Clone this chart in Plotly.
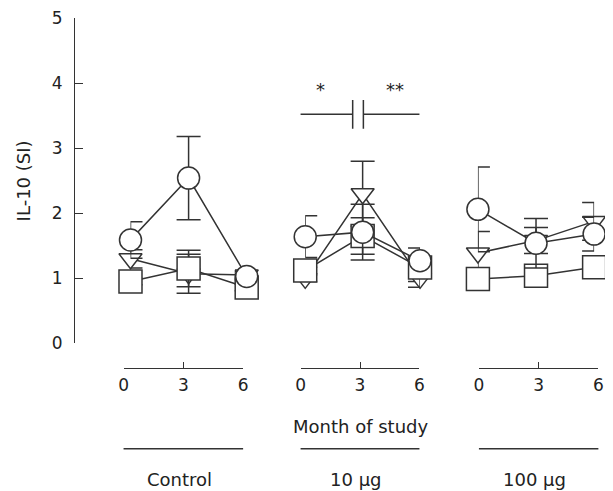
import plotly.graph_objects as go

months = [0, 3, 6]
group_names = ["Control", "10 μg", "100 μg"]
y_ticks = [0, 1, 2, 3, 4, 5]

# circle series
circle_control = [1.59, 2.54, 1.03]
circle_control_err = [0.28, 0.64, 0.05]
circle_10 = [1.64, 1.71, 1.27]
circle_10_err = [0.32, 0.43, 0.05]
circle_100 = [2.06, 1.54, 1.68]
circle_100_err = [0.65, 0.38, 0.26]

# square series
square_control = [0.95, 1.15, 0.86]
square_control_err = [0.05, 0.28, 0.05]
square_10 = [1.12, 1.65, 1.165]
square_10_err = [0.05, 0.28, 0.30]
square_100 = [0.99, 1.04, 1.17]
square_100_err = [0.05, 0.13, 0.05]

# triangle series
tri_control = [1.30, 1.07, 1.05]
tri_control_err = [0.14, 0.30, 0.05]
tri_10 = [1.00, 2.30, 1.00]
tri_10_err = [0.05, 0.50, 0.05]
tri_100 = [1.39, 1.58, 1.875]
tri_100_err = [0.33, 0.20, 0.29]

# significance brackets (10 μg panel, in months)
bracket_x0 = [-0.6, 3.17]
bracket_x1 = [2.63, 6.4]
bracket_y = 3.52
bracket_half = 0.22
bracket_text = ["*", "**"]

INK = "#333333"
FONT = "DejaVu Sans"

data_axes = ["x", "x2", "x3"]
tick_axes = ["x4", "x5", "x6"]
series = [
    (tri_control, tri_control_err, tri_10, tri_10_err, tri_100, tri_100_err, "triangle-down", 20),
    (square_control, square_control_err, square_10, square_10_err, square_100, square_100_err, "square", 23),
    (circle_control, circle_control_err, circle_10, circle_10_err, circle_100, circle_100_err, "circle", 22),
]

fig = go.Figure()
for s in series:
    vals = [(s[0], s[1]), (s[2], s[3]), (s[4], s[5])]
    sym, size = s[6], s[7]
    for (v, e), ax in zip(vals, data_axes):
        fig.add_trace(go.Scatter(
            x=months, y=v, xaxis=ax, yaxis="y", mode="lines+markers",
            line=dict(color=INK, width=1.5),
            marker=dict(symbol=sym, size=size, color="white",
                        line=dict(color=INK, width=1.5)),
            error_y=dict(type="data", array=e, visible=True, color=INK,
                         thickness=1.5, width=12),
            cliponaxis=False, showlegend=False, hoverinfo="skip"))

for ax in tick_axes:
    fig.add_trace(go.Scatter(x=months, y=[0, 0, 0], xaxis=ax, yaxis="y",
                             mode="markers", marker=dict(opacity=0),
                             showlegend=False, hoverinfo="skip"))

data_domains = [[0.1058, 0.3234], [0.4330, 0.6480], [0.7564, 0.9740]]
tick_domains = [[0.0928, 0.3167], [0.4243, 0.6469], [0.7583, 0.9820]]

layout = dict(
    width=605, height=483,
    margin=dict(l=66, r=0, t=8, b=123),
    paper_bgcolor="white", plot_bgcolor="rgba(0,0,0,0)",
    font=dict(family=FONT, size=17, color="#222222"),
    yaxis=dict(domain=[0.0702, 1], range=[0, 5], anchor="free", position=0,
               showline=True, linecolor=INK, linewidth=1.2, ticks="inside",
               ticklen=8, tickcolor=INK, tickwidth=1.2, tickvals=y_ticks,
               showgrid=False, zeroline=False, ticklabelstandoff=8,
               ticklabeloverflow="allow", tickfont=dict(size=17)),
)
for i, ax in enumerate(data_axes):
    key = "xaxis" if i == 0 else f"xaxis{i+1}"
    layout[key] = dict(domain=data_domains[i], range=[0, 6], visible=False,
                       anchor="y", showgrid=False, zeroline=False)
for i, ax in enumerate(tick_axes):
    key = f"xaxis{i+4}"
    layout[key] = dict(domain=tick_domains[i], range=[0, 6], anchor="free",
                       position=0, showline=True, linecolor=INK, linewidth=1.2,
                       ticks="inside", ticklen=6, tickcolor=INK, tickwidth=1.2,
                       tickvals=months, showgrid=False, zeroline=False,
                       ticklabelstandoff=1, ticklabeloverflow="allow",
                       tickfont=dict(size=17))
fig.update_layout(**layout)

shapes = []
annotations = []
for x0, x1, t in zip(bracket_x0, bracket_x1, bracket_text):
    shapes.append(dict(type="line", xref="x5", yref="y", x0=x0, x1=x1,
                       y0=bracket_y, y1=bracket_y, line=dict(color=INK, width=1.5)))
    for xx in (x0, x1):
        shapes.append(dict(type="line", xref="x5", yref="y", x0=xx, x1=xx,
                           y0=bracket_y - bracket_half, y1=bracket_y + bracket_half,
                           line=dict(color=INK, width=1.5)))
    annotations.append(dict(text=t, xref="x5", yref="y", x=(x0 + x1) / 2,
                            y=bracket_y + 0.38, showarrow=False,
                            font=dict(size=18), yanchor="middle"))

for ax, name in zip(tick_axes, group_names):
    shapes.append(dict(type="line", xref=ax, yref="paper", x0=-0.66, x1=6.7,
                       y0=-0.231, y1=-0.231, line=dict(color=INK, width=1.5)))
    annotations.append(dict(text=name, xref=ax, yref="paper", x=2.8, y=-0.318,
                            showarrow=False, font=dict(size=18), yanchor="middle"))

annotations.append(dict(text="Month of study", xref="x5", yref="paper", x=3,
                        y=-0.166, showarrow=False, font=dict(size=18),
                        yanchor="middle"))
annotations.append(dict(text="IL-10 (SI)", xref="paper", yref="paper",
                        x=-0.094, y=0.5355, showarrow=False, textangle=-90,
                        font=dict(size=18), xanchor="center", yanchor="middle"))

fig.update_layout(shapes=shapes, annotations=annotations)
fig.write_html("out.html")
